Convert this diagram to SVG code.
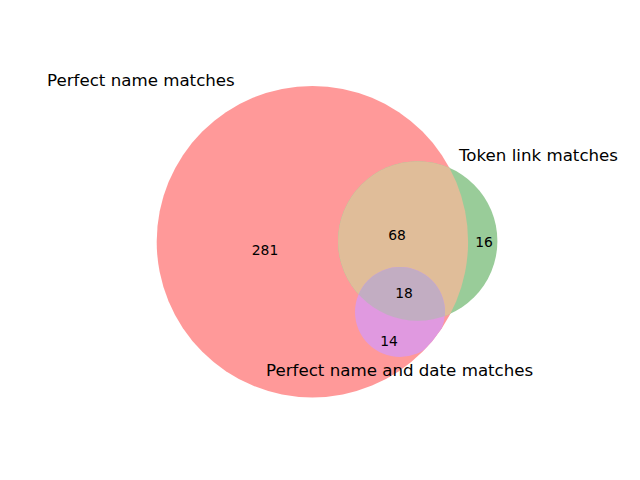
<svg xmlns="http://www.w3.org/2000/svg" width="640" height="480" viewBox="0 0 640 480">
<style>
.lbl{font-family:"DejaVu Sans",sans-serif;font-size:16.67px;fill:#000}
.num{font-family:"DejaVu Sans",sans-serif;font-size:13.89px;fill:#000;text-anchor:middle}
</style>
<defs>
<clipPath id="clipA"><circle cx="312.4" cy="241.7" r="155.7"/></clipPath>
<clipPath id="clipB"><circle cx="417.7" cy="241" r="79.7"/></clipPath>
</defs>
<rect width="640" height="480" fill="#ffffff"/>
<g id="node-A">
<circle cx="312.4" cy="241.7" r="155.7" fill="#ff9999"/>
</g>
<g id="node-B">
<circle cx="417.7" cy="241" r="79.7" fill="#99cc99"/>
<circle cx="417.7" cy="241" r="79.7" fill="#e0bd99" clip-path="url(#clipA)"/>
</g>
<g id="node-C">
<circle cx="400" cy="312" r="45" fill="#e099e0" clip-path="url(#clipA)"/>
<g clip-path="url(#clipA)"><circle cx="400" cy="312" r="45" fill="#c2adc2" clip-path="url(#clipB)"/></g>
</g>
<g id="connectors"/>
<g id="labels">
<text class="lbl" x="47" y="86">Perfect name matches</text>
<text class="lbl" x="459" y="161">Token link matches</text>
<text class="lbl" x="266" y="376">Perfect name and date matches</text>
<text class="num" x="265" y="255">281</text>
<text class="num" x="397" y="239.5">68</text>
<text class="num" x="484" y="246.5">16</text>
<text class="num" x="404" y="298.3">18</text>
<text class="num" x="389" y="345.5">14</text>
</g>
</svg>
